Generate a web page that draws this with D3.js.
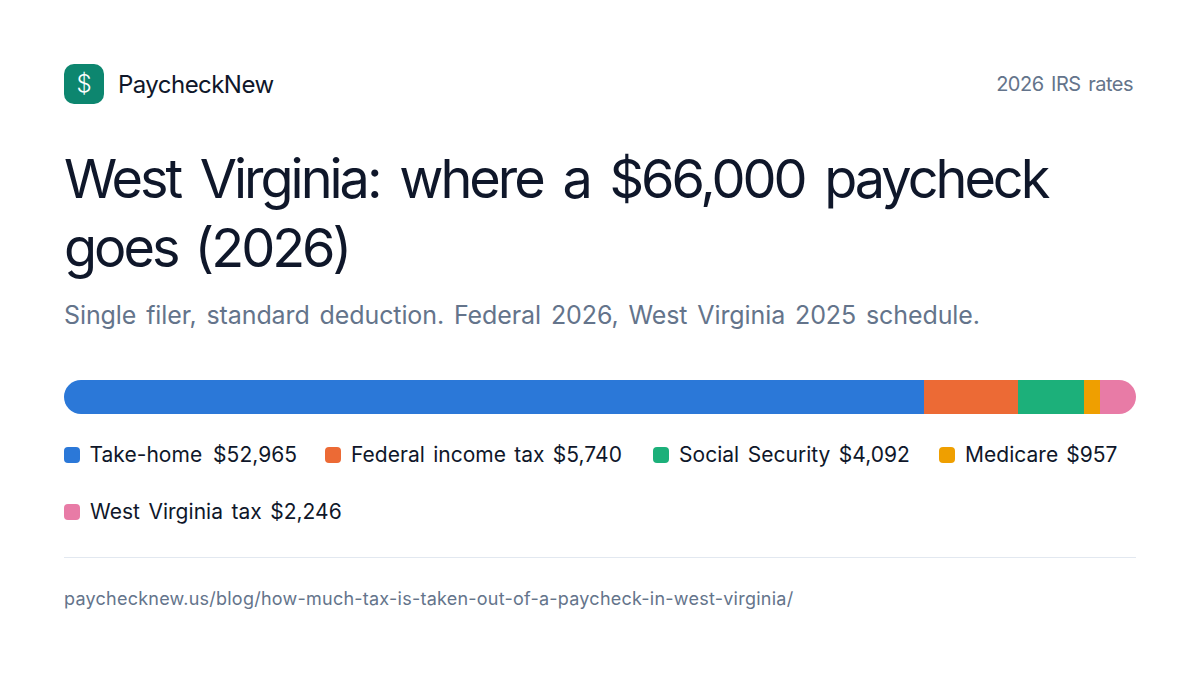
<!DOCTYPE html>
<html><head><meta charset="utf-8">
<script src="https://cdn.jsdelivr.net/npm/d3@7/dist/d3.min.js"></script>
<style>html,body{margin:0;background:#fff}svg{display:block}text{font-family:Inter,sans-serif}</style>
</head><body><svg id="c" width="1200" height="675"></svg>
<script>
const categories=["Take-home","Federal income tax","Social Security","Medicare","West Virginia tax"];
const values=[52965,5740,4092,957,2246];
const colors=["#2b78d8","#ec6a35","#1cb07a","#ef9f00","#e87ba6"];
const titleLines=["West Virginia: where a $66,000 paycheck","goes (2026)"];
const svg=d3.select("#c");
svg.append("rect").attr("x",64).attr("y",64).attr("width",40).attr("height",40).attr("rx",10).attr("fill","#0d866f");
svg.append("text").attr("x",84).attr("y",92).attr("text-anchor","middle").attr("font-size",24).attr("font-weight",300).attr("fill","#fff").text("$");
svg.append("text").attr("x",118).attr("y",93).attr("font-size",24).attr("letter-spacing",-0.55).attr("fill","#0f172a").text("PaycheckNew");
svg.append("text").attr("x",1133).attr("y",91).attr("text-anchor","end").attr("font-size",20).attr("letter-spacing",-0.5).attr("word-spacing",2.4).attr("fill","#64748b").text("2026 IRS rates");
const titleWS=[7.6,5];
svg.selectAll(".t").data(titleLines).join("text").attr("x",64).attr("y",(d,i)=>198+i*69).attr("font-size",54).attr("letter-spacing",-3.02).attr("word-spacing",(d,i)=>titleWS[i]).attr("fill","#0f172a").text(d=>d);
svg.append("text").attr("x",64).attr("y",324).attr("font-size",25).attr("letter-spacing",-0.1).attr("word-spacing",3).attr("fill","#64748b").text("Single filer, standard deduction. Federal 2026, West Virginia 2025 schedule.");
const total=d3.sum(values);
const x=d3.scaleLinear().domain([0,total]).range([64,1136]);
let cum=0;const segs=values.map((v,i)=>{const s={i,a:cum,b:cum+v};cum+=v;return s;});
svg.append("clipPath").attr("id","bar").append("rect").attr("x",x(0)).attr("y",380).attr("width",x(total)-x(0)).attr("height",34).attr("rx",17);
svg.append("g").attr("clip-path","url(#bar)").selectAll("rect").data(segs).join("rect")
 .attr("x",d=>x(d.a)).attr("width",d=>x(d.b)-x(d.a)).attr("y",380).attr("height",34).attr("shape-rendering","crispEdges").attr("fill",d=>colors[d.i]);
const fmt=d3.format("$,");
const lx=[64,325,653,939,64],ly=[455,455,455,455,512];
const tx=[25.5,26,26,26,26],lws=[5,2.3,2.5,2,2.5];
const lg=svg.selectAll(".l").data(categories).join("g");
lg.append("rect").attr("x",(d,i)=>lx[i]).attr("y",(d,i)=>ly[i]-8).attr("width",16).attr("height",16).attr("rx",4).attr("fill",(d,i)=>colors[i]);
lg.append("text").attr("x",(d,i)=>lx[i]+tx[i]).attr("y",(d,i)=>ly[i]+7).attr("font-size",21).attr("letter-spacing",0.03).attr("word-spacing",(d,i)=>lws[i]).attr("fill","#0f172a").text((d,i)=>d+" "+fmt(values[i]));
svg.append("line").attr("x1",64).attr("x2",1136).attr("y1",557.5).attr("y2",557.5).attr("stroke","#e2e8f0");
svg.append("text").attr("x",64).attr("y",605).attr("font-size",18).attr("letter-spacing",0.24).attr("fill","#64748b").text("paychecknew.us/blog/how-much-tax-is-taken-out-of-a-paycheck-in-west-virginia/");
</script></body></html>
